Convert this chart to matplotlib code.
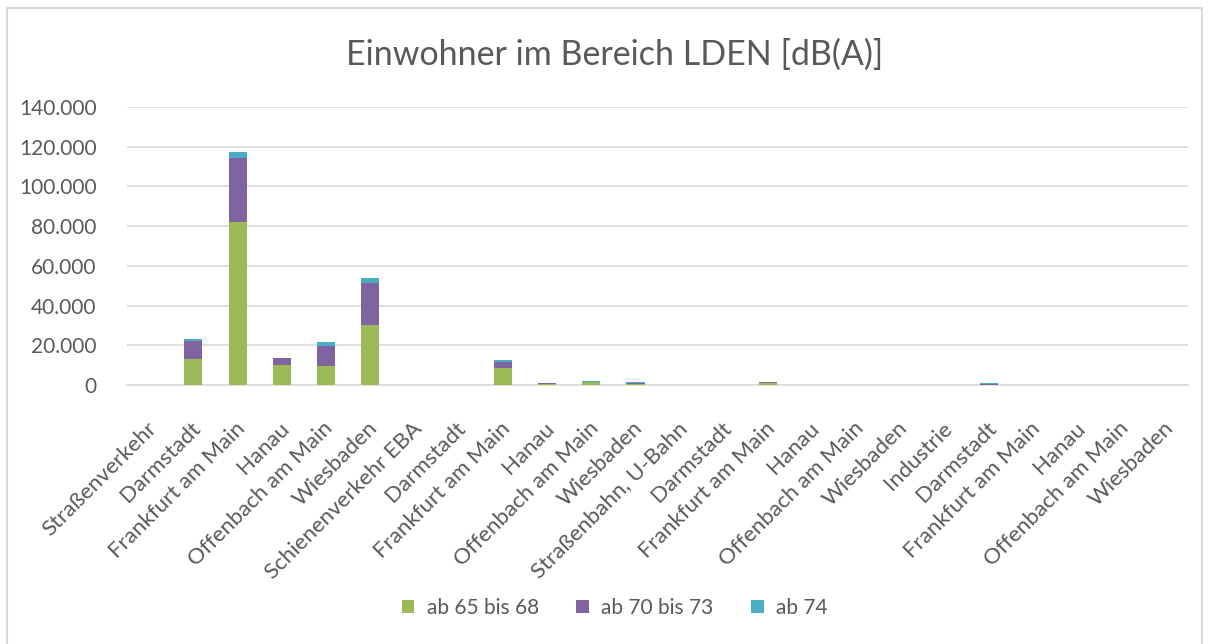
import numpy as np
import matplotlib.pyplot as plt
from matplotlib.patches import Rectangle
from matplotlib.transforms import ScaledTranslation, blended_transform_factory

categories = ["Straßenverkehr", "Darmstadt", "Frankfurt am Main", "Hanau", "Offenbach am Main", "Wiesbaden",
              "Schienenverkehr EBA", "Darmstadt", "Frankfurt am Main", "Hanau", "Offenbach am Main", "Wiesbaden",
              "Straßenbahn, U-Bahn", "Darmstadt", "Frankfurt am Main", "Hanau", "Offenbach am Main", "Wiesbaden",
              "Industrie", "Darmstadt", "Frankfurt am Main", "Hanau", "Offenbach am Main", "Wiesbaden"]

ab65_68 = [0, 13200, 82100, 10200, 9500, 30300,
           0, 300, 8400, 800, 1400, 700,
           0, 0, 1300, 0, 0, 0,
           0, 300, 0, 0, 0, 0]
ab70_73 = [0, 8900, 32300, 3200, 10100, 21300,
           0, 0, 3300, 200, 400, 600,
           0, 0, 200, 0, 0, 0,
           0, 500, 0, 0, 0, 0]
ab74 = [0, 1300, 2700, 200, 2000, 2200,
        0, 0, 1100, 300, 400, 300,
        0, 0, 0, 0, 0, 0,
        0, 300, 0, 0, 0, 0]

series_names = ["ab 65 bis 68", "ab 70 bis 73", "ab 74"]
colors = ["#9BBB59", "#8064A2", "#4BACC6"]
yticks = [0, 20000, 40000, 60000, 80000, 100000, 120000, 140000]
ytick_labels = ["0", "20.000", "40.000", "60.000", "80.000", "100.000", "120.000", "140.000"]

plt.rcParams['font.family'] = ['Lato', 'DejaVu Sans']
txt_color = "#595959"

fig = plt.figure(figsize=(12.1, 6.44), dpi=100)
ax = fig.add_axes([0.105, 0.402, 0.877, 0.432])

x = np.arange(len(categories))
bottom = np.zeros(len(categories))
for vals, name, c in zip([ab65_68, ab70_73, ab74], series_names, colors):
    vals = np.array(vals, dtype=float)
    ax.bar(x, vals, width=0.41, bottom=bottom, color=c, label=name, zorder=3, linewidth=0)
    bottom += vals

ax.set_xlim(-0.5, len(categories) - 0.5)
ax.set_ylim(0, 140000)
ax.set_yticks(yticks)
ax.set_yticklabels(ytick_labels, fontsize=15, color=txt_color)
ax.set_xticks(x)
ax.set_xticklabels([])

# category labels, rotated like in the original
trans = blended_transform_factory(ax.transData, ax.transAxes) + \
    ScaledTranslation(0.04, -0.40, fig.dpi_scale_trans)
for i, name in enumerate(categories):
    ax.text(x[i], 0, name, transform=trans, rotation=45, ha="right", va="center",
            rotation_mode="anchor", fontsize=16, color=txt_color)

ax.tick_params(axis="both", length=0)
ax.tick_params(axis="y", pad=22)
ax.grid(axis="y", color="#D9D9D9", linewidth=1.2, zorder=0)
for s in ["top", "right", "left"]:
    ax.spines[s].set_visible(False)
ax.spines["bottom"].set_color("#D9D9D9")
ax.spines["bottom"].set_linewidth(1.2)

fig.text(0.508, 0.915, "Einwohner im Bereich LDEN [dB(A)]", ha="center", va="center",
         fontsize=24.5, color=txt_color)

fig.legend(loc="center", bbox_to_anchor=(0.508, 0.056), ncol=3, frameon=False,
           fontsize=15, labelcolor=txt_color, handlelength=0.6, handleheight=0.6,
           handletextpad=0.6, columnspacing=1.8)

fig.patches.append(Rectangle((0.006, -0.01), 0.987, 0.998, transform=fig.transFigure,
                             fill=False, edgecolor="#D9D9D9", linewidth=1.5))

fig.savefig("out.png", dpi=100)
